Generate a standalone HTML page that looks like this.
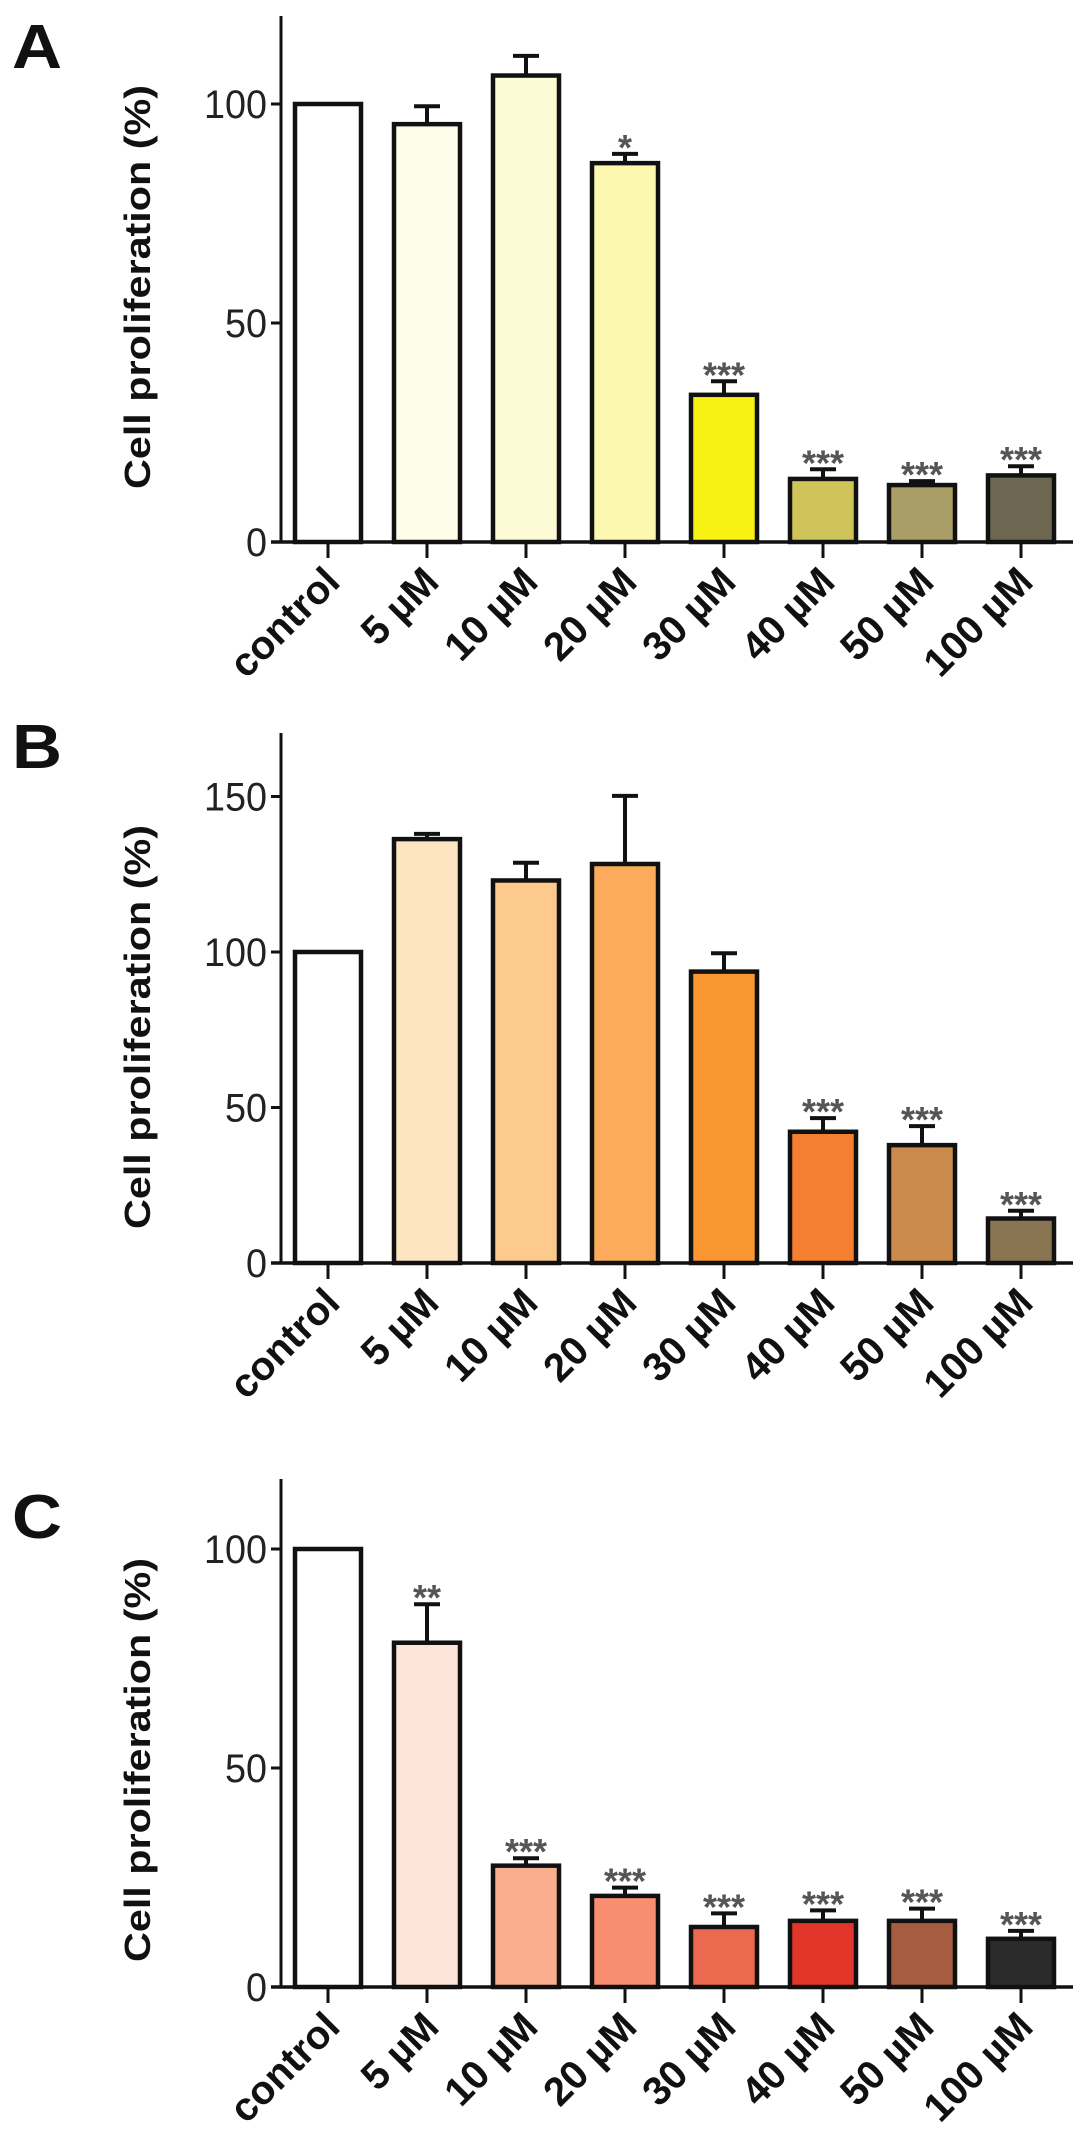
<!DOCTYPE html>
<html><head><meta charset="utf-8"><style>
html,body{margin:0;padding:0;background:#fff}
svg{display:block}
text{font-family:"Liberation Sans",Arial,sans-serif}
</style></head><body>
<svg id="fig" width="1087" height="2151" viewBox="0 0 1087 2151" xmlns="http://www.w3.org/2000/svg"></svg>
<script>
const categories = ["control","5 µM","10 µM","20 µM","30 µM","40 µM","50 µM","100 µM"];
const valuesA = [100, 95.4, 106.5, 86.5, 33.6, 14.4, 13, 15.2];
const errorsA = [100, 99.5, 111, 88.6, 36.7, 16.6, 13.9, 17.3];
const starsA = ["", "", "", "*", "***", "***", "***", "***"];
const ticksA = [0, 50, 100];
const valuesB = [100, 136.3, 123, 128.3, 93.7, 42.2, 37.9, 14.3];
const errorsB = [100, 138, 128.7, 150.2, 99.6, 46.6, 44, 16.8];
const starsB = ["", "", "", "", "", "***", "***", "***"];
const ticksB = [0, 50, 100, 150];
const valuesC = [100, 78.6, 27.7, 20.8, 13.7, 15.1, 15.1, 11];
const errorsC = [100, 87.4, 29.4, 22.7, 16.8, 17.5, 17.9, 12.8];
const starsC = ["", "**", "***", "***", "***", "***", "***", "***"];
const ticksC = [0, 50, 100];

const NS = "http://www.w3.org/2000/svg";
const svg = document.getElementById('fig');
function mk(tag, attrs, parent){
  const e = document.createElementNS(NS, tag);
  for (const k in attrs) e.setAttribute(k, attrs[k]);
  (parent||svg).appendChild(e);
  return e;
}
const panels = [
  {id:"a", letter:"A", values:valuesA, errors:errorsA, stars:starsA, ticks:ticksA, base:542, ppu:4.38, top:16, letterY:68, titleY:287,
   colors:["#ffffff","#fefde9","#fdfbd6","#fdf8b0","#f8f214","#cfc459","#a99f66","#6d6751"]},
  {id:"b", letter:"B", values:valuesB, errors:errorsB, stars:starsB, ticks:ticksB, base:1263, ppu:3.11, top:733, letterY:768, titleY:1027,
   colors:["#ffffff","#fde5c1","#fdca8d","#fbab5b","#f8962f","#f47f30","#c98a4b","#8a7553"]},
  {id:"c", letter:"C", values:valuesC, errors:errorsC, stars:starsC, ticks:ticksC, base:1987, ppu:4.38, top:1479, letterY:1538, titleY:1760,
   colors:["#ffffff","#fde6d9","#f9ae8d","#f78e70","#eb6a4f","#e3362b","#a65c41","#2b2b2b"]}
];
const axisX = 281, x0 = 328, step = 99, barW = 66, xEnd = 1073;
panels.forEach(p => {
  const g = mk('g', {});
  
  
  const y = v => p.base - v * p.ppu;
  const xc = i => x0 + i * step;
  const lt = mk('text', {x:12, y:p.letterY, 'font-size':62, 'font-weight':'bold', fill:'#111', textLength:50, lengthAdjust:'spacingAndGlyphs'}, g);
  lt.textContent = p.letter;
  
  
  const tt = mk('text', {x:0, y:0, 'font-size':36, 'font-weight':'bold', fill:'#111', 'text-anchor':'middle',
    textLength:404, lengthAdjust:'spacingAndGlyphs', transform:`translate(150,${p.titleY}) rotate(-90)`}, g);
  tt.textContent = "Cell proliferation (%)";
  
  
  p.values.forEach((v, i) => {
    const cx = xc(i);
    const eb = mk('path', {d:`M${cx} ${y(v)} V${y(p.errors[i])} M${cx-13} ${y(p.errors[i])} H${cx+13}`, stroke:'#111', 'stroke-width':4, fill:'none'}, g);
    
    
    const r = mk('rect', {x:cx - barW/2, y:y(v), width:barW, height:p.base - y(v), fill:p.colors[i], stroke:'#111', 'stroke-width':4.5}, g);
    
    
    if (p.stars[i]) {
      const st = mk('text', {x:cx, y:y(p.errors[i]) + 6, 'font-size':36, 'font-weight':'bold', fill:'#555', 'text-anchor':'middle'}, g);
      st.textContent = p.stars[i];
      
      
    }
    const tk = mk('line', {x1:cx, x2:cx, y1:p.base, y2:p.base + 16, stroke:'#111', 'stroke-width':3}, g);
    
    
    const lab = mk('text', {x:0, y:0, 'font-size':40, 'font-weight':'bold', fill:'#111', 'text-anchor':'end',
      transform:`translate(${cx + 14},${p.base + 42}) rotate(-45)`}, g);
    lab.textContent = categories[i];
    
    
  });
  const ya = mk('line', {x1:axisX, x2:axisX, y1:p.top, y2:p.base, stroke:'#111', 'stroke-width':3}, g);
  
  
  const xa = mk('line', {x1:axisX - 10, x2:xEnd, y1:p.base, y2:p.base, stroke:'#111', 'stroke-width':3.5}, g);
  
  
  p.ticks.forEach(t => {
    const l = mk('line', {x1:axisX - 10, x2:axisX, y1:y(t), y2:y(t), stroke:'#111', 'stroke-width':3}, g);
    
    
    const tl = mk('text', {x:axisX - 14, y:y(t) + 14, 'font-size':40, fill:'#222', 'text-anchor':'end',
      textLength: String(t).length * 21, lengthAdjust:'spacingAndGlyphs'}, g);
    tl.textContent = t;
    
    
  });
});
</script>
</body></html>
